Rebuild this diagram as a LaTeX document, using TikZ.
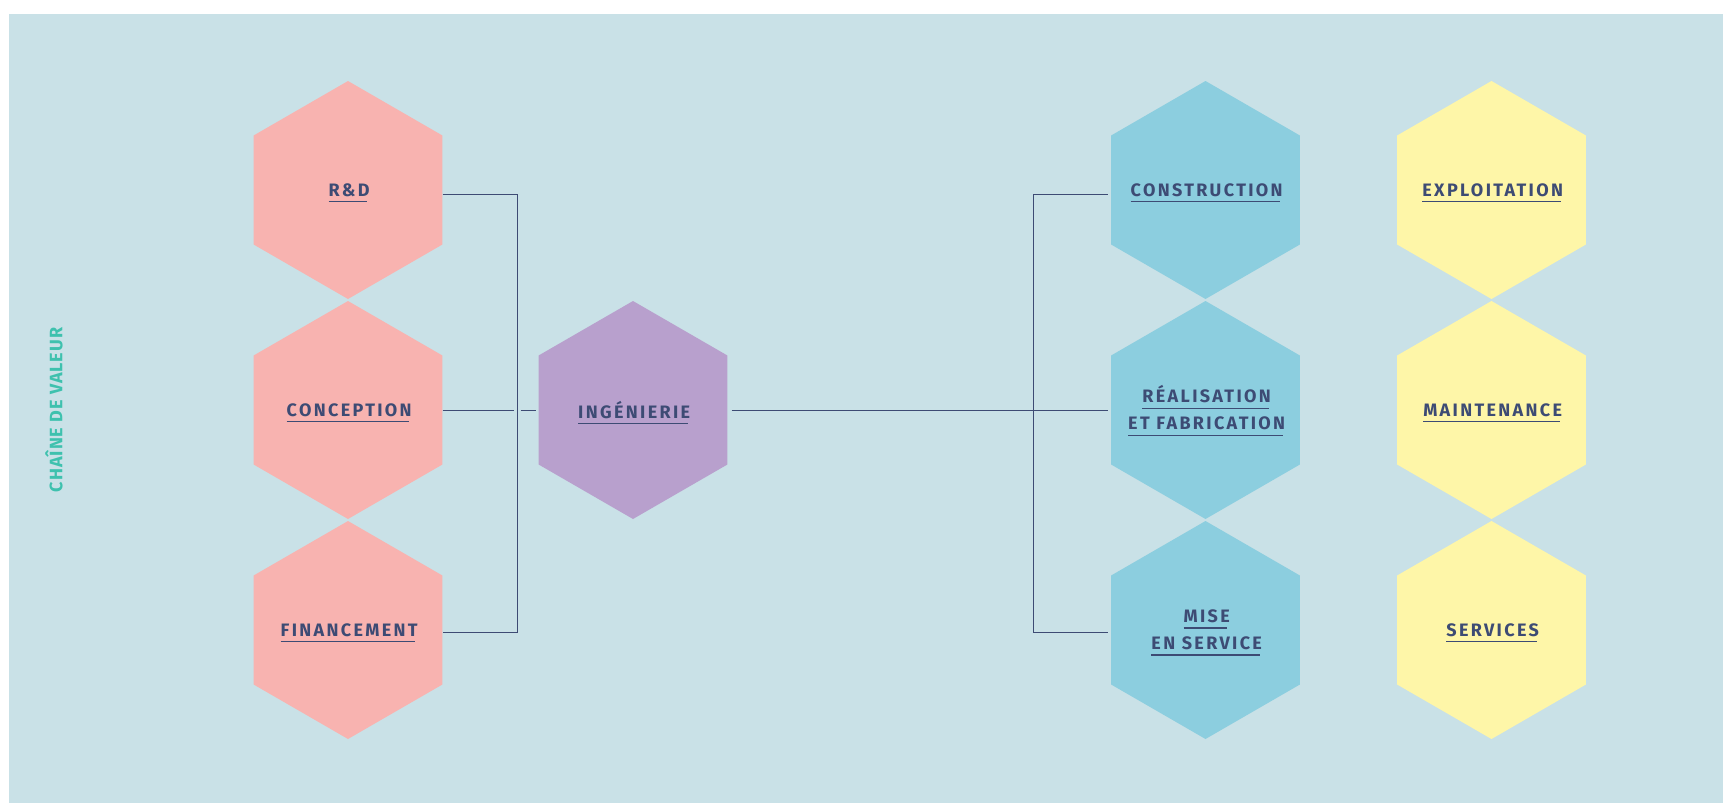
\documentclass[tikz,border=0pt]{standalone}
\usepackage{fontspec}
\usetikzlibrary{shapes.geometric}
\newfontfamily\hexfont[LetterSpace=13]{Fira Sans}
\newfontfamily\sidefont[LetterSpace=5.5]{Fira Sans}
\definecolor{bgblue}{HTML}{C9E1E7}
\definecolor{hexpink}{HTML}{F8B3B0}
\definecolor{hexlilac}{HTML}{B8A0CD}
\definecolor{hexcyan}{HTML}{8CCEDF}
\definecolor{hexyellow}{HTML}{FEF6A8}
\definecolor{navy}{HTML}{3D4B74}
\definecolor{teal}{HTML}{3EC1AE}
\newlength{\hexkern}
\newcommand{\ulword}[1]{\setlength{\hexkern}{0.13em}\setbox0=\hbox{#1\kern-\hexkern}\rlap{\smash{\rule[-6pt]{\wd0}{1.3pt}}}\box0}

\begin{document}
\begin{tikzpicture}[x=1pt,y=-1pt,
  hex/.style={regular polygon,regular polygon sides=6,shape border rotate=30,
    minimum size=218pt,inner sep=0pt},
  hextext/.style={inner sep=0pt,align=center,text=navy,
    font=\hexfont\bfseries\fontsize{18}{27}\selectfont},
  link/.style={draw=navy,line width=1pt}]
\useasboundingbox (0,0) rectangle (1723,803);
\fill[white] (0,0) rectangle (1723,803);
\fill[bgblue] (9,14) rectangle (1723,803);

\node[rotate=90,text=teal,font=\sidefont\bfseries\fontsize{18}{22}\selectfont] (side) at (54,410) {CHAÎNE DE VALEUR};

\node[hex,fill=hexpink] (rd) at (348,190) {};
\node[hex,fill=hexpink] (con) at (348,410) {};
\node[hex,fill=hexpink] (fin) at (348,630) {};
\node[hex,fill=hexlilac] (ing) at (633,410) {};
\node[hex,fill=hexcyan] (cons) at (1205.5,190) {};
\node[hex,fill=hexcyan] (rea) at (1205.5,410) {};
\node[hex,fill=hexcyan] (mise) at (1205.5,630) {};
\node[hex,fill=hexyellow] (exp) at (1491.5,190) {};
\node[hex,fill=hexyellow] (main) at (1491.5,410) {};
\node[hex,fill=hexyellow] (serv) at (1491.5,630) {};

\node[hextext] (rd-t) at (rd) {\ulword{R\&D}};
\node[hextext] (con-t) at (con) {\ulword{CONCEPTION}};
\node[hextext] (fin-t) at (fin) {\ulword{FINANCEMENT}};
\node[hextext] (ing-t) at (ing) {\ulword{INGÉNIERIE}};
\node[hextext] (cons-t) at (cons) {\ulword{CONSTRUCTION}};
\node[hextext,yshift=2pt] (rea-t) at (rea) {\ulword{RÉALISATION}\\\ulword{ET FABRICATION}};
\node[hextext] (mise-t) at (mise) {\ulword{MISE}\\\ulword{EN SERVICE}};
\node[hextext] (exp-t) at (exp) {\ulword{EXPLOITATION}};
\node[hextext] (main-t) at (main) {\ulword{MAINTENANCE}};
\node[hextext] (serv-t) at (serv) {\ulword{SERVICES}};

\coordinate (lbus-t) at (517,194);
\coordinate (lbus-b) at (517,632);
\coordinate (rbus-t) at (1033,194);
\coordinate (rbus-b) at (1033,632);

\draw[link] ([yshift=-4pt]rd.east) -- (lbus-t) -- (lbus-b) -- ([yshift=-2pt]fin.east);
\draw[link] (con.east) -- ([xshift=-3.5pt]con.east -| lbus-t);
\draw[link] ([xshift=3.5pt]con.east -| lbus-t) -- ([xshift=-2pt]ing.west);
\draw[link] ([xshift=4pt]ing.east) -- ([xshift=-3pt]rea.west);
\draw[link] ([xshift=-3pt,yshift=-4pt]cons.west) -- (rbus-t) -- (rbus-b) -- ([xshift=-3pt,yshift=-2pt]mise.west);
\end{tikzpicture}
\end{document}
